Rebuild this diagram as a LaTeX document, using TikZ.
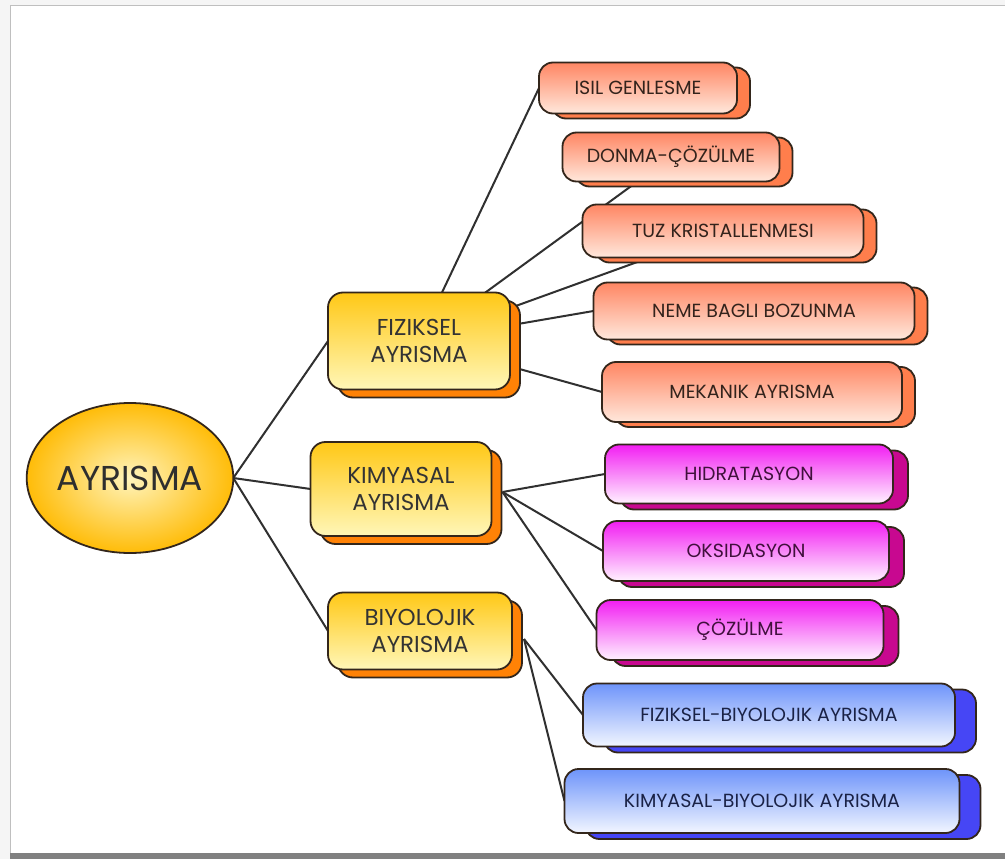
\documentclass[tikz,border=0pt]{standalone}
\usepackage{fontspec}
\setmainfont{Poppins}
\usetikzlibrary{shapes.geometric,shadows}

\pgfdeclarelayer{bg}
\pgfsetlayers{bg,main}

\definecolor{wire}{HTML}{303030}
\definecolor{rim}{HTML}{33261B}
\definecolor{suncore}{HTML}{FFF4BC}
\definecolor{sunrim}{HTML}{FFBC08}
\definecolor{goldtop}{HTML}{FFC816}
\definecolor{goldbot}{HTML}{FFF7B8}
\definecolor{goldsh}{HTML}{FF8206}
\definecolor{coraltop}{HTML}{FF8663}
\definecolor{coralbot}{HTML}{FFE8DC}
\definecolor{coralsh}{HTML}{FF7E4C}
\definecolor{coralink}{HTML}{33231C}
\definecolor{magtop}{HTML}{F21EF2}
\definecolor{magbot}{HTML}{FFF2FF}
\definecolor{magsh}{HTML}{C80890}
\definecolor{magink}{HTML}{40103C}
\definecolor{bluetop}{HTML}{6E94FA}
\definecolor{bluebot}{HTML}{F2F6FF}
\definecolor{bluesh}{HTML}{4646F5}
\definecolor{blueink}{HTML}{1A2246}

\begin{document}
\begin{tikzpicture}[
  x=1pt,
  y=-1pt,
  every node/.style={inner sep=0pt, outer sep=0pt, align=center},
  link/.style={draw=wire, line width=2pt},
  root/.style={
    ellipse,
    draw=rim,
    line width=1.8pt,
    inner color=suncore,
    outer color=sunrim,
    minimum width=206pt,
    minimum height=150pt,
    text=black!82,
    font=\fontsize{34.5}{40}\selectfont,
  },
  branch/.style={
    rectangle,
    rounded corners=15pt,
    draw=rim,
    line width=1.8pt,
    top color=goldtop,
    bottom color=goldbot,
    text=black!80,
    font=\fontsize{23}{27}\selectfont,
    copy shadow={shadow xshift=10pt, shadow yshift=-8pt, fill=goldsh, draw=rim, line width=1.8pt},
  },
  leaf/.style={
    rectangle,
    rounded corners=14pt,
    draw=rim,
    line width=1.8pt,
    font=\fontsize{19}{22}\selectfont,
  },
  fizleaf/.style={
    leaf,
    top color=coraltop,
    bottom color=coralbot,
    text=coralink,
    copy shadow={shadow xshift=13pt, shadow yshift=-5pt, fill=coralsh, draw=rim, line width=1.8pt},
  },
  kimleaf/.style={
    leaf,
    top color=magtop,
    bottom color=magbot,
    text=magink,
    copy shadow={shadow xshift=15pt, shadow yshift=-6pt, fill=magsh, draw=rim, line width=1.8pt},
  },
  bioleaf/.style={
    leaf,
    top color=bluetop,
    bottom color=bluebot,
    text=blueink,
    copy shadow={shadow xshift=21pt, shadow yshift=-6pt, fill=bluesh, draw=rim, line width=1.8pt},
  },
]
  \useasboundingbox (0,0) rectangle (1005,859);
  \begin{pgfonlayer}{bg}
    \fill[black!4] (0,0) rectangle (1005,859);
    \fill[white] (10,6) rectangle (1005,853);
    \draw[black!25, line width=1pt] (10,853) -- (10,6) -- (1005,6);
    \fill[black!50] (10,853) rectangle (1005,859);
  \end{pgfonlayer}

  \node[root] (ayr) at (130,478) {AYRISMA};

  \node[branch, minimum width=182pt, minimum height=97pt] (fiz) at (419,341) {FIZIKSEL\\AYRISMA};
  \node[branch, minimum width=181pt, minimum height=94pt] (kim) at (401,489) {KIMYASAL\\AYRISMA};
  \node[branch, minimum width=184pt, minimum height=77pt] (biy) at (420,631) {BIYOLOJIK\\AYRISMA};

  \foreach \name/\cx/\cy/\w/\h/\label in {
    isil/638/88/198/51/ISIL GENLESME,
    donma/671/157/217/49/DONMA-ÇÖZÜLME,
    tuz/723/231/281/53/TUZ KRISTALLENMESI,
    neme/754/311/321/57/NEME BAGLI BOZUNMA,
    mek/752/392/300/60/MEKANIK AYRISMA%
  } {
    \node[fizleaf, minimum width=\w pt, minimum height=\h pt] (\name) at (\cx,\cy) {\label};
  }
  \foreach \name/\cx/\cy/\w/\h/\label in {
    hid/749/474/288/59/HIDRATASYON,
    oks/746/551/286/60/OKSIDASYON,
    coz/740/630/287/60/ÇÖZÜLME%
  } {
    \node[kimleaf, minimum width=\w pt, minimum height=\h pt] (\name) at (\cx,\cy) {\label};
  }
  \foreach \name/\cx/\cy/\w/\h/\label in {
    fb/769/715/372/63/FIZIKSEL-BIYOLOJIK AYRISMA,
    kb/762/801/395/64/KIMYASAL-BIYOLOJIK AYRISMA%
  } {
    \node[bioleaf, minimum width=\w pt, minimum height=\h pt] (\name) at (\cx,\cy) {\label};
  }

  \begin{pgfonlayer}{bg}
    \foreach \kid in {fiz,kim,biy}
      \draw[link] (ayr.east) -- (\kid.west);
    \foreach \kid/\spot in {isil/west, donma/center, tuz/center, neme/west, mek/west}
      \draw[link] (fiz.center) -- (\kid.\spot);
    \foreach \kid in {hid,oks,coz}
      \draw[link] ([xshift=11pt, yshift=-3pt]kim.east) -- (\kid.west);
    \foreach \kid in {fb,kb}
      \draw[link] ([xshift=12pt, yshift=-8pt]biy.east) -- (\kid.west);
  \end{pgfonlayer}
\end{tikzpicture}
\end{document}
